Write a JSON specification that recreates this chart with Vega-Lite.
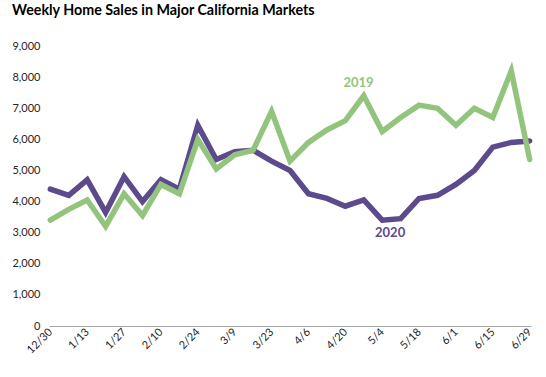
{
  "$schema": "https://vega.github.io/schema/vega-lite/v6.json",
  "width": 482,
  "height": 280,
  "autosize": "none",
  "padding": {"left": 49, "top": 46, "right": 15, "bottom": 51},
  "background": "white",
  "config": {"view": {"stroke": null}, "font": "Lato"},
  "title": {
    "text": "Weekly Home Sales in Major California Markets",
    "anchor": "start",
    "frame": "group",
    "dx": -37,
    "offset": 22,
    "font": "Lato",
    "fontSize": 14.3,
    "fontWeight": "bold",
    "color": "#000000"
  },
  "datasets": {
    "sales": [
      {"week": "2019/12/30", "series": "2020", "sales": 4400},
      {"week": "2020/01/06", "series": "2020", "sales": 4200},
      {"week": "2020/01/13", "series": "2020", "sales": 4700},
      {"week": "2020/01/20", "series": "2020", "sales": 3650},
      {"week": "2020/01/27", "series": "2020", "sales": 4800},
      {"week": "2020/02/03", "series": "2020", "sales": 4000},
      {"week": "2020/02/10", "series": "2020", "sales": 4700},
      {"week": "2020/02/17", "series": "2020", "sales": 4400},
      {"week": "2020/02/24", "series": "2020", "sales": 6450},
      {"week": "2020/03/02", "series": "2020", "sales": 5350},
      {"week": "2020/03/09", "series": "2020", "sales": 5600},
      {"week": "2020/03/16", "series": "2020", "sales": 5650},
      {"week": "2020/03/23", "series": "2020", "sales": 5300},
      {"week": "2020/03/30", "series": "2020", "sales": 5000},
      {"week": "2020/04/06", "series": "2020", "sales": 4250},
      {"week": "2020/04/13", "series": "2020", "sales": 4100},
      {"week": "2020/04/20", "series": "2020", "sales": 3850},
      {"week": "2020/04/27", "series": "2020", "sales": 4050},
      {"week": "2020/05/04", "series": "2020", "sales": 3400},
      {"week": "2020/05/11", "series": "2020", "sales": 3450},
      {"week": "2020/05/18", "series": "2020", "sales": 4100},
      {"week": "2020/05/25", "series": "2020", "sales": 4200},
      {"week": "2020/06/01", "series": "2020", "sales": 4550},
      {"week": "2020/06/08", "series": "2020", "sales": 5000},
      {"week": "2020/06/15", "series": "2020", "sales": 5750},
      {"week": "2020/06/22", "series": "2020", "sales": 5900},
      {"week": "2020/06/29", "series": "2020", "sales": 5950},
      {"week": "2019/12/30", "series": "2019", "sales": 3400},
      {"week": "2020/01/06", "series": "2019", "sales": 3750},
      {"week": "2020/01/13", "series": "2019", "sales": 4050},
      {"week": "2020/01/20", "series": "2019", "sales": 3200},
      {"week": "2020/01/27", "series": "2019", "sales": 4250},
      {"week": "2020/02/03", "series": "2019", "sales": 3550},
      {"week": "2020/02/10", "series": "2019", "sales": 4550},
      {"week": "2020/02/17", "series": "2019", "sales": 4250},
      {"week": "2020/02/24", "series": "2019", "sales": 6000},
      {"week": "2020/03/02", "series": "2019", "sales": 5050},
      {"week": "2020/03/09", "series": "2019", "sales": 5500},
      {"week": "2020/03/16", "series": "2019", "sales": 5650},
      {"week": "2020/03/23", "series": "2019", "sales": 6900},
      {"week": "2020/03/30", "series": "2019", "sales": 5300},
      {"week": "2020/04/06", "series": "2019", "sales": 5900},
      {"week": "2020/04/13", "series": "2019", "sales": 6300},
      {"week": "2020/04/20", "series": "2019", "sales": 6600},
      {"week": "2020/04/27", "series": "2019", "sales": 7400},
      {"week": "2020/05/04", "series": "2019", "sales": 6250},
      {"week": "2020/05/11", "series": "2019", "sales": 6700},
      {"week": "2020/05/18", "series": "2019", "sales": 7100},
      {"week": "2020/05/25", "series": "2019", "sales": 7000},
      {"week": "2020/06/01", "series": "2019", "sales": 6450},
      {"week": "2020/06/08", "series": "2019", "sales": 7000},
      {"week": "2020/06/15", "series": "2019", "sales": 6700},
      {"week": "2020/06/22", "series": "2019", "sales": 8200},
      {"week": "2020/06/29", "series": "2019", "sales": 5350}
    ],
    "labels": [
      {"week": "2020/04/25", "series": "2019", "sales": 7800},
      {"week": "2020/05/07", "series": "2020", "sales": 2980}
    ]
  },
  "encoding": {
    "x": {
      "field": "week",
      "type": "temporal",
      "scale": {"domain": [{"year": 2019, "month": 12, "date": 29, "hours": 12}, {"year": 2020, "month": 6, "date": 29, "hours": 12}], "nice": false},
      "axis": {
        "title": null,
        "values": [
          {"year": 2019, "month": 12, "date": 30},
          {"year": 2020, "month": 1, "date": 13},
          {"year": 2020, "month": 1, "date": 27},
          {"year": 2020, "month": 2, "date": 10},
          {"year": 2020, "month": 2, "date": 24},
          {"year": 2020, "month": 3, "date": 9},
          {"year": 2020, "month": 3, "date": 23},
          {"year": 2020, "month": 4, "date": 6},
          {"year": 2020, "month": 4, "date": 20},
          {"year": 2020, "month": 5, "date": 4},
          {"year": 2020, "month": 5, "date": 18},
          {"year": 2020, "month": 6, "date": 1},
          {"year": 2020, "month": 6, "date": 15},
          {"year": 2020, "month": 6, "date": 29}
        ],
        "format": "%-m/%-d",
        "labelAngle": -45,
        "labelAlign": "right",
        "labelBaseline": "middle",
        "labelPadding": 4,
        "labelFontSize": 11,
        "labelColor": "#262626",
        "labelFont": "Lato",
        "labelOverlap": false,
        "labelFlush": false,
        "ticks": false,
        "grid": false,
        "domainColor": "#a6a6a6",
        "domainWidth": 1
      }
    },
    "y": {
      "field": "sales",
      "type": "quantitative",
      "scale": {"domain": [0, 9000], "nice": false},
      "axis": {
        "title": null,
        "values": [0, 1000, 2000, 3000, 4000, 5000, 6000, 7000, 8000, 9000],
        "format": ",.0f",
        "domain": false,
        "ticks": false,
        "grid": false,
        "labelPadding": 9,
        "labelFontSize": 11,
        "labelColor": "#262626",
        "labelFont": "Lato"
      }
    },
    "color": {
      "field": "series",
      "type": "nominal",
      "scale": {"domain": ["2019", "2020"], "range": ["#93C47D", "#5C4A8C"]},
      "legend": null
    }
  },
  "layer": [
    {
      "data": {"name": "sales"},
      "mark": {"type": "line", "strokeWidth": 5.5, "strokeCap": "round", "strokeJoin": "miter"},
      "encoding": {"order": {"field": "week", "type": "temporal"}}
    },
    {
      "data": {"name": "labels"},
      "mark": {"type": "text", "font": "Lato", "fontSize": 13, "fontWeight": "bold", "align": "center", "baseline": "middle"},
      "encoding": {"text": {"field": "series", "type": "nominal"}}
    }
  ]
}
